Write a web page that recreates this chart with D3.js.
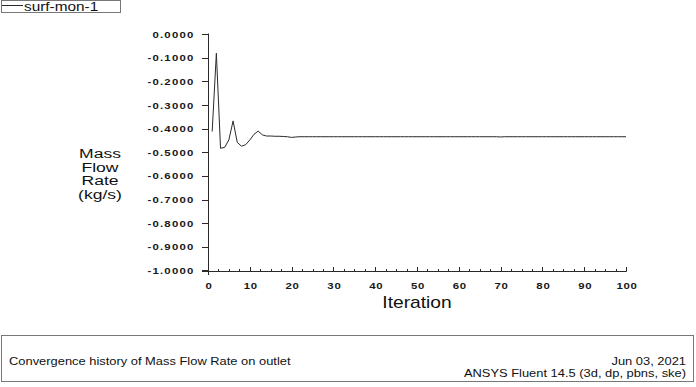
<!DOCTYPE html>
<html>
<head>
<meta charset="utf-8">
<script src="https://cdn.jsdelivr.net/npm/d3@7"></script>
<style>
  html, body { margin: 0; padding: 0; background: #fff; }
  svg { display: block; font-family: "Liberation Sans", Arial, sans-serif; }
</style>
</head>
<body>
<div id="chart"></div>
<script>
// monitor values, one per iteration (starting at iteration 1)
let massFlow = [
  -0.412, -0.080, -0.483, -0.479, -0.447, -0.367, -0.458, -0.474, -0.468, -0.448,
  -0.424, -0.410, -0.426, -0.431, -0.431, -0.432, -0.432, -0.433, -0.434, -0.437,
  -0.435, -0.434, -0.434, -0.434, -0.434, -0.434, -0.434, -0.434, -0.434, -0.434,
  -0.434, -0.434, -0.434, -0.434, -0.434, -0.434, -0.434, -0.434, -0.434, -0.434,
  -0.434, -0.434, -0.434, -0.434, -0.434, -0.434, -0.434, -0.434, -0.434, -0.434,
  -0.434, -0.434, -0.434, -0.434, -0.434, -0.434, -0.434, -0.434, -0.434, -0.434,
  -0.434, -0.434, -0.434, -0.434, -0.434, -0.434, -0.434, -0.434, -0.434, -0.435,
  -0.434, -0.434, -0.434, -0.434, -0.434, -0.434, -0.434, -0.434, -0.434, -0.434,
  -0.434, -0.434, -0.434, -0.434, -0.434, -0.434, -0.434, -0.434, -0.434, -0.434,
  -0.434, -0.434, -0.434, -0.434, -0.434, -0.434, -0.434, -0.434, -0.434, -0.434
]
let xTicks = [0, 10, 20, 30, 40, 50, 60, 70, 80, 90, 100]
let yTicks = [0, -0.1, -0.2, -0.3, -0.4, -0.5, -0.6, -0.7, -0.8, -0.9, -1.0]
let yTitle = ['Mass', 'Flow', 'Rate', '(kg/s)']
let xTitle = 'Iteration'
let seriesName = 'surf-mon-1'
let footLeft = 'Convergence history of Mass Flow Rate on outlet'
let footRight = ['Jun 03, 2021', 'ANSYS Fluent 14.5 (3d, dp, pbns, ske)']

let W = 696, H = 387
let svg = d3.select('#chart').append('svg').attr('width', W).attr('height', H)

let x = d3.scaleLinear().domain([0, 100]).range([208, 626])
let y = d3.scaleLinear().domain([0, -1]).range([34.3, 270.3])
let ink = '#2a2a2a'

// stretched text, the original image is wider than the plot fonts
function stext(g, tx, ty, str, sx) {
  return g.append('text')
    .attr('transform', 'translate(' + tx + ',' + ty + ') scale(' + sx + ',1)')
    .text(str)
}

// legend
let leg = svg.append('g')
leg.append('rect').attr('x', 1.5).attr('y', 0.5).attr('width', 119).attr('height', 12)
  .attr('fill', 'none').attr('stroke', '#777')
leg.append('line').attr('x1', 2).attr('x2', 23).attr('y1', 5.5).attr('y2', 5.5)
  .attr('stroke', ink)
stext(leg, 24, 11, seriesName, 1.28).attr('font-size', 12).attr('fill', '#111')

// axes
let ax = svg.append('g').attr('stroke', ink).attr('fill', 'none')
ax.append('line').attr('x1', 208.5).attr('x2', 208.5).attr('y1', 33.5).attr('y2', 275)
ax.append('line').attr('x1', 202).attr('x2', 626.5).attr('y1', 271.5).attr('y2', 271.5)

ax.selectAll('.yt').data(yTicks).enter().append('line')
  .attr('x1', 202).attr('x2', 208.5)
  .attr('y1', d => Math.round(y(d)) + 0.5).attr('y2', d => Math.round(y(d)) + 0.5)

let minor = d3.range(0, 100.1, 2.5)
ax.selectAll('.xt').data(minor).enter().append('line')
  .attr('x1', d => Math.round(x(d)) + 0.5).attr('x2', d => Math.round(x(d)) + 0.5)
  .attr('y1', d => d % 10 === 0 ? 267 : 269).attr('y2', 271.5)

let yl = svg.append('g').attr('font-size', 9.5).attr('font-weight', 'bold')
  .attr('fill', '#1a1a1a').attr('text-anchor', 'end')
yTicks.forEach(function(d) {
  stext(yl, 194.5, y(d) + 3.5, d.toFixed(4), 1.2).attr('letter-spacing', 1)
})

let xl = svg.append('g').attr('font-size', 9.5).attr('font-weight', 'bold')
  .attr('fill', '#1a1a1a').attr('text-anchor', 'middle')
xTicks.forEach(function(d) {
  stext(xl, x(d) + 1, 288.5, String(d), 1.2).attr('letter-spacing', 0.6)
})

// titles
let tt = svg.append('g').attr('font-size', 13.5).attr('fill', '#111').attr('text-anchor', 'middle')
yTitle.forEach(function(s, i) {
  stext(tt, 100, 158 + i * 13.5, s, 1.3)
})
stext(tt, 417, 308, xTitle, 1.2).attr('font-size', 16)

// series
let line = d3.line()
  .x((d, i) => x(i + 1))
  .y(d => y(d))
svg.append('path').datum(massFlow)
  .attr('d', line)
  .attr('fill', 'none').attr('stroke', ink).attr('stroke-width', 1)

// footer box
let foot = svg.append('g')
foot.append('rect').attr('x', 1.5).attr('y', 335.5).attr('width', 692).attr('height', 46)
  .attr('fill', 'none').attr('stroke', '#777')
let ft = foot.append('g').attr('font-size', 10).attr('fill', '#111')
stext(ft, 9, 365, footLeft, 1.29)
stext(ft, 686, 365, footRight[0], 1.29).attr('text-anchor', 'end')
stext(ft, 686, 377, footRight[1], 1.29).attr('text-anchor', 'end')
</script>
</body>
</html>
